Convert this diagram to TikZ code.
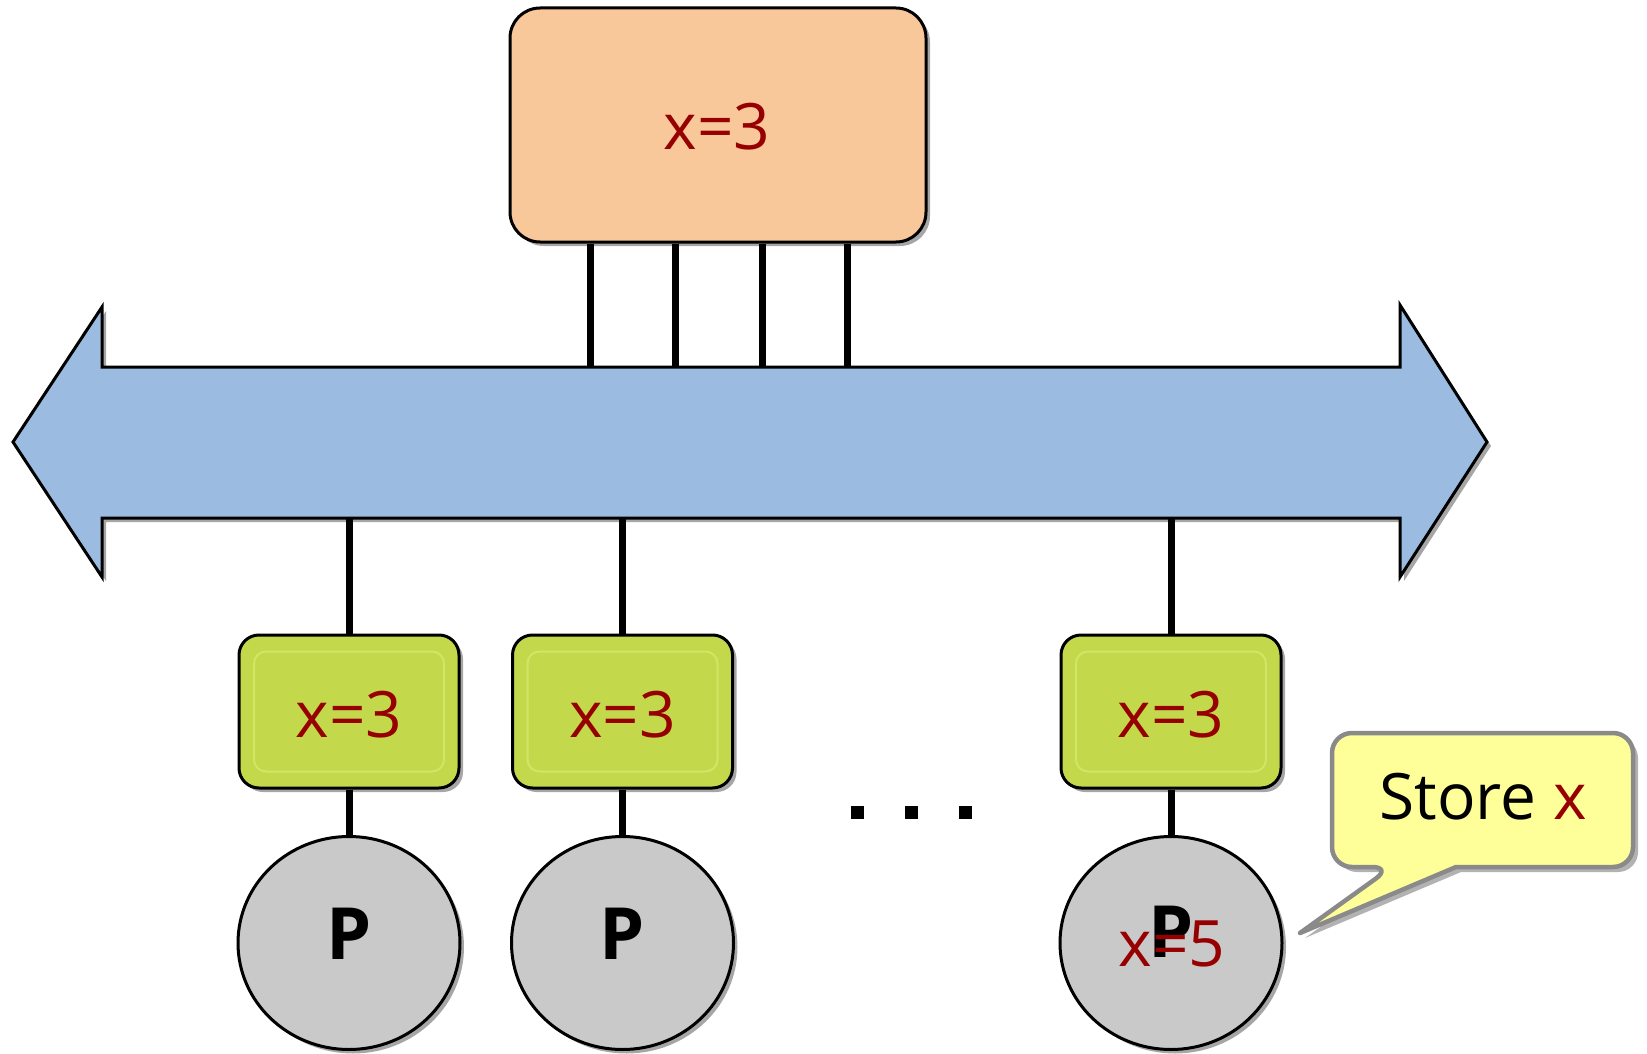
\documentclass[tikz,border=0pt]{standalone}
\usepackage{fontspec}
\setmainfont{Open Sans}
\usetikzlibrary{shapes.geometric,shadows,calc}
\definecolor{memfill}{HTML}{F8C79A}
\definecolor{cachefill}{HTML}{C3D84B}
\definecolor{cacheinner}{HTML}{D2E566}
\definecolor{busfill}{HTML}{9BBBE1}
\definecolor{procfill}{HTML}{C9C9C9}
\definecolor{valred}{HTML}{960000}
\definecolor{notefill}{HTML}{FFFF99}
\definecolor{noteline}{HTML}{8A8A8A}
\tikzset{
  shad/.style={drop shadow={shadow xshift=4pt,shadow yshift=-4pt,opacity=0.35,fill=black}},
  wire/.style={line width=7pt,black},
  memory/.style={draw=black,line width=3pt,fill=memfill,rounded corners=30pt,shad,
    minimum width=416pt,minimum height=234pt,inner sep=0pt},
  cache/.style={draw=black,line width=3pt,fill=cachefill,rounded corners=20pt,shad,
    minimum width=220pt,minimum height=153pt,inner sep=0pt},
  inner/.style={draw=cacheinner,line width=2pt,rounded corners=12pt,
    minimum width=190pt,minimum height=120pt,inner sep=0pt},
  proc/.style={ellipse,draw=black,line width=3pt,fill=procfill,shad,
    minimum width=222pt,minimum height=213pt,inner sep=0pt},
  val/.style={text=valred,font=\fontsize{64}{72}\selectfont,inner sep=0pt},
  plabel/.style={font=\fontsize{72}{80}\selectfont\bfseries,inner sep=0pt},
  dotsq/.style={fill=black,minimum size=13pt,inner sep=0pt},
  note/.style={draw=noteline,line width=4.5pt,fill=notefill,line join=round,
    drop shadow={shadow xshift=5pt,shadow yshift=-5pt,opacity=0.3,fill=black}},
}
\begin{document}
\begin{tikzpicture}[x=1pt,y=-1pt]
\useasboundingbox (0,0) rectangle (1647,1054);
% bus arrow
\draw[line width=3pt,fill=busfill,line join=miter,shad]
  (13,442) -- (102,307) -- (102,367) -- (1400,367) -- (1400,305) -- (1487,442)
  -- (1400,577) -- (1400,518) -- (102,518) -- (102,577) -- cycle;
\node[draw=none,minimum width=1298pt,minimum height=151pt,inner sep=0pt] (bus) at (751,442.5) {};
% boxes
\node[memory] (mem) at (718,125) {};
\node[cache] (c1) at (349,711.5) {};
\node[cache] (c2) at (622.5,711.5) {};
\node[cache] (c3) at (1171,711.5) {};
\node[proc] (p1) at (349,943) {};
\node[proc] (p2) at (622.5,943) {};
\node[proc] (p3) at (1171,943) {};
% wires
\foreach \px in {590,675,762,847}{
  \draw[wire] (mem.south -| \px,0) -- (bus.north -| \px,0);
}
\foreach \c/\p in {c1/p1,c2/p2,c3/p3}{
  \draw[wire] (bus.south -| \c) -- (\c.north);
  \draw[wire] (\c.south) -- (\p.north);
}
% texts
\node[val] (memval) at (717,127) {x=3};
\foreach \c in {c1,c2,c3}{
  \node[inner] (\c in) at (\c) {};
  \node[val] (\c v) at ($(\c)+(0,3)$) {x=3};
}
\node[plabel] (p1l) at (349,934) {P};
\node[plabel] (p2l) at (622.5,934) {P};
\node[plabel] (p3l) at (1171,932) {P};
\node[val] (p3v) at (1172,944) {x=5};
% dots
\node[dotsq] (d1) at (857,812) {};
\node[dotsq] (d2) at (911,812) {};
\node[dotsq] (d3) at (965,812) {};
% callout
\draw[note] (1392,867) -- (1300,933) -- (1456,867) [rounded corners=20pt] -- (1633,867)
  -- (1633,733) -- (1332,733) -- (1332,867) -- cycle;
\node[inner sep=0pt,font=\fontsize{64}{72}\selectfont] (notetext) at (1483,797) {Store \textcolor{valred}{x}};
\end{tikzpicture}
\end{document}
